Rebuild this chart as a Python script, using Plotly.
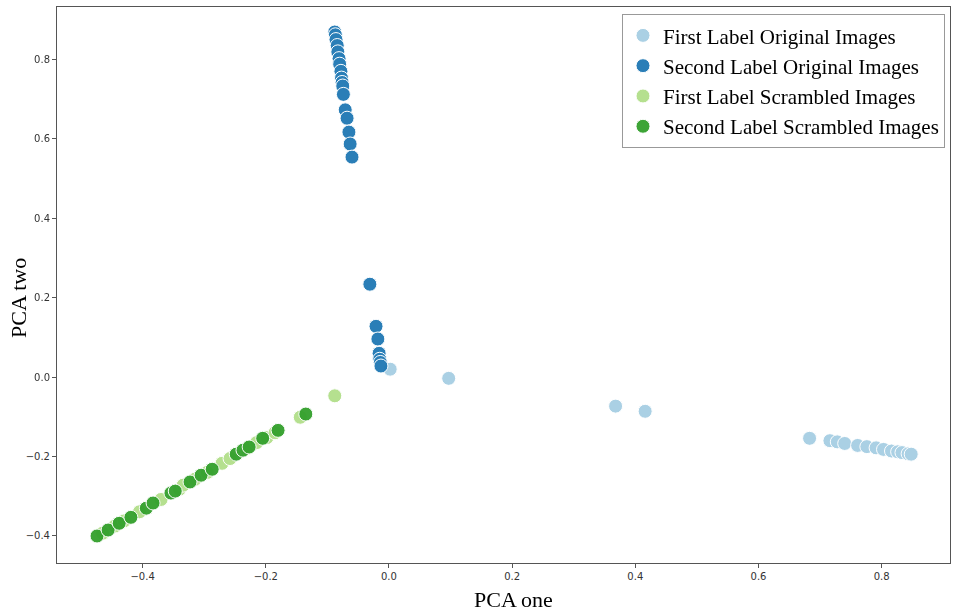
import plotly.graph_objects as go

# PCA coordinates
first_orig_x = [0.002, 0.097, 0.368, 0.416, 0.683, 0.716, 0.728, 0.740, 0.761, 0.776,
                0.791, 0.803, 0.816, 0.826, 0.833, 0.843, 0.848]
first_orig_y = [0.020, -0.003, -0.073, -0.086, -0.154, -0.160, -0.163, -0.167, -0.172, -0.175,
                -0.178, -0.182, -0.186, -0.188, -0.190, -0.193, -0.194]

second_orig_x = [-0.088, -0.087, -0.086, -0.084, -0.083, -0.081, -0.080, -0.078, -0.077, -0.076,
                 -0.075, -0.074, -0.071, -0.068, -0.065, -0.063, -0.060,
                 -0.031, -0.021, -0.018, -0.016, -0.015, -0.014, -0.013]
second_orig_y = [0.869, 0.862, 0.850, 0.835, 0.819, 0.802, 0.788, 0.770, 0.753, 0.742,
                 0.733, 0.712, 0.673, 0.652, 0.617, 0.587, 0.554,
                 0.234, 0.128, 0.096, 0.060, 0.045, 0.037, 0.028]

first_scr_x = [-0.465, -0.445, -0.430, -0.405, -0.370, -0.340, -0.334, -0.315, -0.295, -0.271,
               -0.258, -0.230, -0.215, -0.198, -0.185, -0.144, -0.088]
first_scr_y = [-0.393, -0.375, -0.362, -0.339, -0.308, -0.282, -0.272, -0.257, -0.240, -0.217,
               -0.205, -0.179, -0.165, -0.152, -0.140, -0.101, -0.047]

second_scr_x = [-0.474, -0.456, -0.438, -0.419, -0.394, -0.383, -0.354, -0.347, -0.323, -0.305,
                -0.287, -0.248, -0.237, -0.227, -0.205, -0.180, -0.135]
second_scr_y = [-0.400, -0.385, -0.368, -0.353, -0.330, -0.317, -0.292, -0.287, -0.264, -0.247,
                -0.232, -0.194, -0.184, -0.176, -0.154, -0.134, -0.093]

names = ["First Label Original Images", "Second Label Original Images",
         "First Label Scrambled Images", "Second Label Scrambled Images"]
colors = ["#a6cee3", "#1f78b4", "#b2df8a", "#33a02c"]

fig = go.Figure()
series = [(first_orig_x, first_orig_y), (second_orig_x, second_orig_y),
          (first_scr_x, first_scr_y), (second_scr_x, second_scr_y)]
for (xs, ys), name, col in zip(series, names, colors):
    fig.add_trace(go.Scatter(
        x=xs, y=ys, mode="markers", name=name,
        marker=dict(color=col, size=14, line=dict(color="white", width=1)),
        opacity=0.95))

axis_style = dict(showgrid=False, zeroline=False, showline=True, mirror=True,
                  linecolor="#555555", linewidth=1, ticks="outside", ticklen=4,
                  tickcolor="#555555", tickformat=".1f", dtick=0.2, automargin=False,
                  tickfont=dict(family="DejaVu Sans", size=10, color="#333333"))

fig.update_xaxes(range=[-0.539, 0.911], tick0=-0.4, **axis_style)
fig.update_yaxes(range=[-0.468, 0.932], tick0=-0.4, **axis_style)

# axis titles placed by hand, like the reference
title_font = dict(family="Liberation Serif", size=22, color="black")
fig.add_annotation(text="PCA one", xref="paper", yref="paper", x=0.511, y=-0.066,
                   xanchor="center", yanchor="middle", showarrow=False, font=title_font)
fig.add_annotation(text="PCA two", xref="paper", yref="paper", x=-0.043, y=0.476,
                   xanchor="center", yanchor="middle", textangle=-90, showarrow=False,
                   font=title_font)

fig.update_layout(
    width=957, height=614,
    margin=dict(l=57, r=7, t=7, b=51, autoexpand=False),
    plot_bgcolor="white", paper_bgcolor="white",
    legend=dict(x=0.9944, y=0.987, xanchor="right", yanchor="top",
                bgcolor="white", bordercolor="#999999", borderwidth=1,
                font=dict(family="Liberation Serif", size=21, color="black"),
                itemwidth=30, tracegroupgap=0),
)

# drop the browser's default page margin so the figure sits at the top-left corner
fig.write_html("out.html", config={"displayModeBar": False},
               post_script="document.body.style.margin='0';document.body.style.overflow='hidden';")
